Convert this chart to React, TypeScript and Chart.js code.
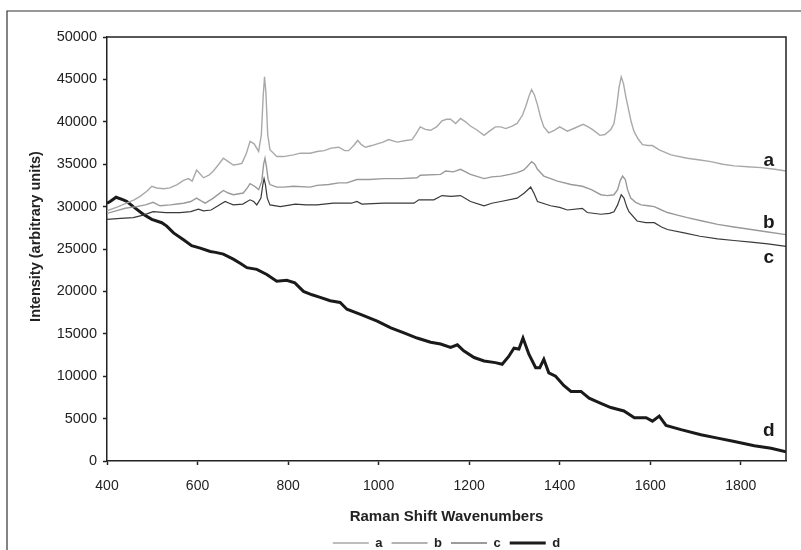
import React, { useEffect, useRef } from "react";
import { Chart, registerables } from "chart.js";

Chart.register(...registerables);

// ---- data (wavenumber, intensity) ----
const aX = [400, 425, 443, 460, 473, 488, 499, 510, 525, 539, 555, 569, 580, 588, 598, 613, 625, 635, 647, 657, 668, 679, 690, 698, 708, 716, 725, 735, 741, 745, 748, 751, 755, 760, 775, 790, 812, 827, 849, 864, 880, 895, 912, 925, 934, 945, 954, 962, 971, 985, 997, 1010, 1022, 1041, 1060, 1074, 1083, 1092, 1103, 1115, 1128, 1140, 1150, 1159, 1170, 1181, 1192, 1203, 1218, 1233, 1245, 1258, 1270, 1281, 1295, 1306, 1318, 1325, 1332, 1338, 1344, 1351, 1358, 1365, 1376, 1388, 1400, 1417, 1435, 1452, 1463, 1472, 1489, 1500, 1513, 1520, 1526, 1531, 1536, 1541, 1546, 1552, 1558, 1564, 1573, 1583, 1595, 1605, 1620, 1646, 1682, 1710, 1734, 1760, 1786, 1815, 1845, 1875, 1900];
const aY = [29500, 30000, 30400, 30800, 31200, 31800, 32400, 32200, 32100, 32200, 32600, 33100, 33300, 33000, 34300, 33400, 33700, 34200, 35000, 35700, 35300, 34900, 35000, 35100, 36300, 37700, 37400, 36500, 38500, 43000, 45300, 43500, 38500, 36700, 35900, 35900, 36100, 36300, 36300, 36500, 36600, 36900, 37000, 36600, 36600, 37200, 37800, 37300, 37000, 37200, 37400, 37600, 37900, 37600, 37800, 37900, 38600, 39400, 39100, 39000, 39400, 40100, 40300, 40300, 39800, 40400, 40000, 39500, 39000, 38400, 38900, 39400, 39400, 39200, 39500, 39800, 40800, 41800, 43000, 43800, 43200, 42000, 40500, 39400, 38700, 39000, 39400, 38900, 39300, 39700, 39400, 39100, 38400, 38500, 39100, 39800, 41800, 44000, 45300, 44500, 43000, 41500, 40000, 38900, 38000, 37300, 37200, 37200, 36700, 36100, 35700, 35500, 35300, 35000, 34800, 34700, 34600, 34400, 34200];

const bX = [400, 420, 440, 465, 485, 502, 517, 540, 555, 569, 585, 598, 607, 617, 635, 647, 657, 668, 679, 701, 710, 716, 726, 735, 742, 746, 749, 752, 756, 760, 775, 790, 812, 849, 864, 890, 912, 930, 952, 980, 1011, 1050, 1085, 1092, 1137, 1148, 1165, 1181, 1203, 1233, 1250, 1270, 1290, 1306, 1320, 1328, 1338, 1345, 1351, 1365, 1380, 1395, 1425, 1450, 1470, 1491, 1505, 1520, 1528, 1534, 1539, 1545, 1550, 1557, 1568, 1580, 1595, 1609, 1625, 1638, 1660, 1682, 1715, 1749, 1785, 1823, 1860, 1900];
const bY = [29200, 29500, 29800, 30000, 30200, 30500, 30100, 30200, 30300, 30400, 30600, 31000, 30700, 30400, 31000, 31500, 31900, 31600, 31400, 31600, 32200, 32700, 32400, 32000, 33000, 35000, 35700, 34800, 33200, 32600, 32300, 32300, 32400, 32300, 32500, 32600, 32800, 32800, 33200, 33200, 33300, 33300, 33400, 33700, 33800, 34200, 34100, 34400, 33800, 33300, 33500, 33600, 33800, 34000, 34300, 34700, 35300, 35000, 34400, 33600, 33300, 33000, 32600, 32400, 32000, 31400, 31300, 31400, 32000, 33100, 33600, 33200, 32000, 31000, 30500, 30200, 30100, 30000, 29600, 29300, 29000, 28700, 28300, 27900, 27600, 27300, 27000, 26700];

const cX = [400, 430, 458, 480, 502, 530, 561, 585, 602, 613, 630, 648, 661, 670, 679, 700, 716, 724, 731, 740, 744, 747, 750, 754, 760, 783, 816, 840, 864, 900, 940, 952, 963, 1011, 1078, 1089, 1122, 1140, 1160, 1181, 1203, 1233, 1250, 1270, 1306, 1322, 1336, 1343, 1351, 1380, 1400, 1417, 1450, 1461, 1491, 1510, 1520, 1528, 1536, 1542, 1548, 1553, 1571, 1590, 1609, 1625, 1638, 1675, 1710, 1749, 1785, 1823, 1860, 1900];
const cY = [28500, 28600, 28700, 29000, 29400, 29300, 29300, 29400, 29700, 29500, 29600, 30200, 30600, 30400, 30200, 30300, 30800, 30600, 30200, 31000, 32500, 33300, 32600, 31000, 30200, 30000, 30300, 30200, 30200, 30400, 30400, 30600, 30300, 30400, 30400, 30800, 30800, 31300, 31200, 31300, 30600, 30100, 30400, 30600, 31000, 31600, 32300, 31600, 30600, 30100, 29900, 29600, 29800, 29300, 29100, 29200, 29400, 30200, 31400, 31000, 30000, 29400, 28300, 28100, 28100, 27600, 27300, 26900, 26500, 26200, 26000, 25800, 25600, 25300];

const dX = [400, 407, 420, 436, 444, 458, 480, 499, 521, 532, 547, 569, 587, 606, 628, 640, 657, 679, 695, 709, 731, 753, 775, 797, 815, 834, 853, 871, 893, 915, 930, 960, 997, 1027, 1056, 1085, 1115, 1137, 1159, 1174, 1188, 1211, 1233, 1258, 1273, 1287, 1299, 1310, 1319, 1332, 1347, 1356, 1365, 1376, 1391, 1409, 1425, 1447, 1465, 1491, 1513, 1542, 1565, 1591, 1605, 1620, 1635, 1668, 1712, 1749, 1786, 1830, 1867, 1900];
const dY = [30400, 30600, 31100, 30800, 30600, 30000, 29100, 28500, 28100, 27700, 26900, 26100, 25400, 25100, 24700, 24600, 24400, 23800, 23300, 22800, 22600, 22000, 21200, 21300, 21000, 20000, 19600, 19300, 18900, 18700, 17900, 17300, 16500, 15700, 15100, 14500, 14000, 13800, 13400, 13700, 13000, 12200, 11800, 11600, 11400, 12300, 13300, 13200, 14500, 12600, 11000, 11000, 12000, 10400, 10000, 8900, 8200, 8200, 7400, 6800, 6300, 5900, 5100, 5100, 4700, 5300, 4200, 3700, 3100, 2700, 2300, 1800, 1500, 1100];

const seriesNames = ["a", "b", "c", "d"];
const xMin = 400;
const xMax = 1900;
const xStep = 200;
const yMin = 0;
const yMax = 50000;
const yStep = 5000;

// in-plot curve labels
const curveLabelText = ["a", "b", "c", "d"];
const curveLabelX = [1862, 1862, 1862, 1862];
const curveLabelY = [34800, 27500, 23400, 3000];

const xTitle = "Raman Shift Wavenumbers";
const yTitle = "Intensity (arbitrary units)";

const FONT = '"Liberation Sans", Arial, Helvetica, sans-serif';

function pts(xs: number[], ys: number[]) {
  return xs.map((x, i) => ({ x, y: ys[i] }));
}

const decorPlugin = {
  id: "decor",
  afterDraw(chart: any) {
    const { ctx, chartArea: ca, scales } = chart;
    ctx.save();
    // top & right frame of plot
    ctx.strokeStyle = "#222222";
    ctx.lineWidth = 1.5;
    ctx.beginPath();
    ctx.moveTo(ca.left, ca.top);
    ctx.lineTo(ca.right, ca.top);
    ctx.lineTo(ca.right, ca.bottom);
    ctx.stroke();
    // outer border (cropped at right/bottom)
    ctx.strokeStyle = "#333333";
    ctx.lineWidth = 1.2;
    ctx.beginPath();
    ctx.moveTo(7, chart.height + 10);
    ctx.lineTo(7, 11);
    ctx.lineTo(chart.width + 10, 11);
    ctx.stroke();
    // curve labels
    ctx.fillStyle = "#1a1a1a";
    ctx.font = "bold 19px " + FONT;
    ctx.textAlign = "center";
    ctx.textBaseline = "alphabetic";
    curveLabelText.forEach((t, i) => {
      ctx.fillText(t, scales.x.getPixelForValue(curveLabelX[i]), scales.y.getPixelForValue(curveLabelY[i]));
    });
    // y title
    ctx.translate(40, 236.5);
    ctx.rotate(-Math.PI / 2);
    ctx.font = "bold 14.5px " + FONT;
    ctx.fillStyle = "#222222";
    ctx.textAlign = "center";
    ctx.fillText(yTitle, 0, 0);
    ctx.restore();
  },
};

export default function App() {
  const ref = useRef<HTMLCanvasElement | null>(null);
  useEffect(() => {
    if (!ref.current) return;
    const colors = ["#a9a9a9", "#9a9a9a", "#3a3a3a", "#1a1a1a"];
    const widths = [1.4, 1.4, 1.2, 3];
    const xs = [aX, bX, cX, dX];
    const ys = [aY, bY, cY, dY];
    const chart = new Chart(ref.current, {
      type: "line",
      data: {
        datasets: seriesNames.map((n, i) => ({
          label: n,
          data: pts(xs[i], ys[i]),
          borderColor: colors[i],
          borderWidth: widths[i],
          pointRadius: 0,
          pointHoverRadius: 0,
          pointBorderColor: colors[i],
          pointBorderWidth: widths[i],
          pointBackgroundColor: colors[i],
          pointStyle: "line",
          tension: 0,
          fill: false,
        })),
      },
      options: {
        animation: false,
        responsive: false,
        devicePixelRatio: 1,
        events: [],
        layout: { padding: { left: 0, top: 37, right: 15, bottom: -9.5 } },
        plugins: {
          tooltip: { enabled: false },
          legend: {
            display: true,
            position: "bottom",
            fullSize: false,
            labels: {
              usePointStyle: true,
              pointStyle: "line",
              pointStyleWidth: 36,
              padding: 9,
              color: "#222222",
              font: { family: FONT, size: 13, weight: "bold" },
            },
          },
        },
        scales: {
          x: {
            type: "linear",
            min: xMin,
            max: xMax,
            afterFit: (s: any) => {
              s.height = 66.5;
            },
            ticks: {
              stepSize: xStep,
              includeBounds: false,
              padding: 13,
              color: "#222222",
              font: { family: FONT, size: 14 },
              maxRotation: 0,
              callback: (v: any) => String(v),
            },
            grid: {
              display: true,
              drawOnChartArea: false,
              drawTicks: true,
              tickLength: 4,
              color: "#222222",
              tickWidth: 1.5,
            },
            border: { display: true, color: "#222222", width: 1.5 },
            title: {
              display: true,
              text: xTitle,
              color: "#222222",
              font: { family: FONT, size: 15, weight: "bold" },
              padding: { top: 0, bottom: 1.5 },
            },
          },
          y: {
            type: "linear",
            min: yMin,
            max: yMax,
            afterFit: (s: any) => {
              s.width = 107;
            },
            ticks: {
              stepSize: yStep,
              padding: 6,
              color: "#222222",
              font: { family: FONT, size: 14.5 },
              callback: (v: any) => String(v),
            },
            grid: {
              display: true,
              drawOnChartArea: false,
              drawTicks: true,
              tickLength: 4,
              color: "#222222",
              tickWidth: 1.5,
            },
            border: { display: true, color: "#222222", width: 1.5 },
          },
        },
      },
      plugins: [decorPlugin],
    });
    return () => chart.destroy();
  }, []);
  return (
    <div style={{ position: "absolute", left: 0, top: 0, width: 801, height: 550, background: "#ffffff" }}>
      <canvas ref={ref} width={801} height={550} style={{ display: "block" }} />
    </div>
  );
}
